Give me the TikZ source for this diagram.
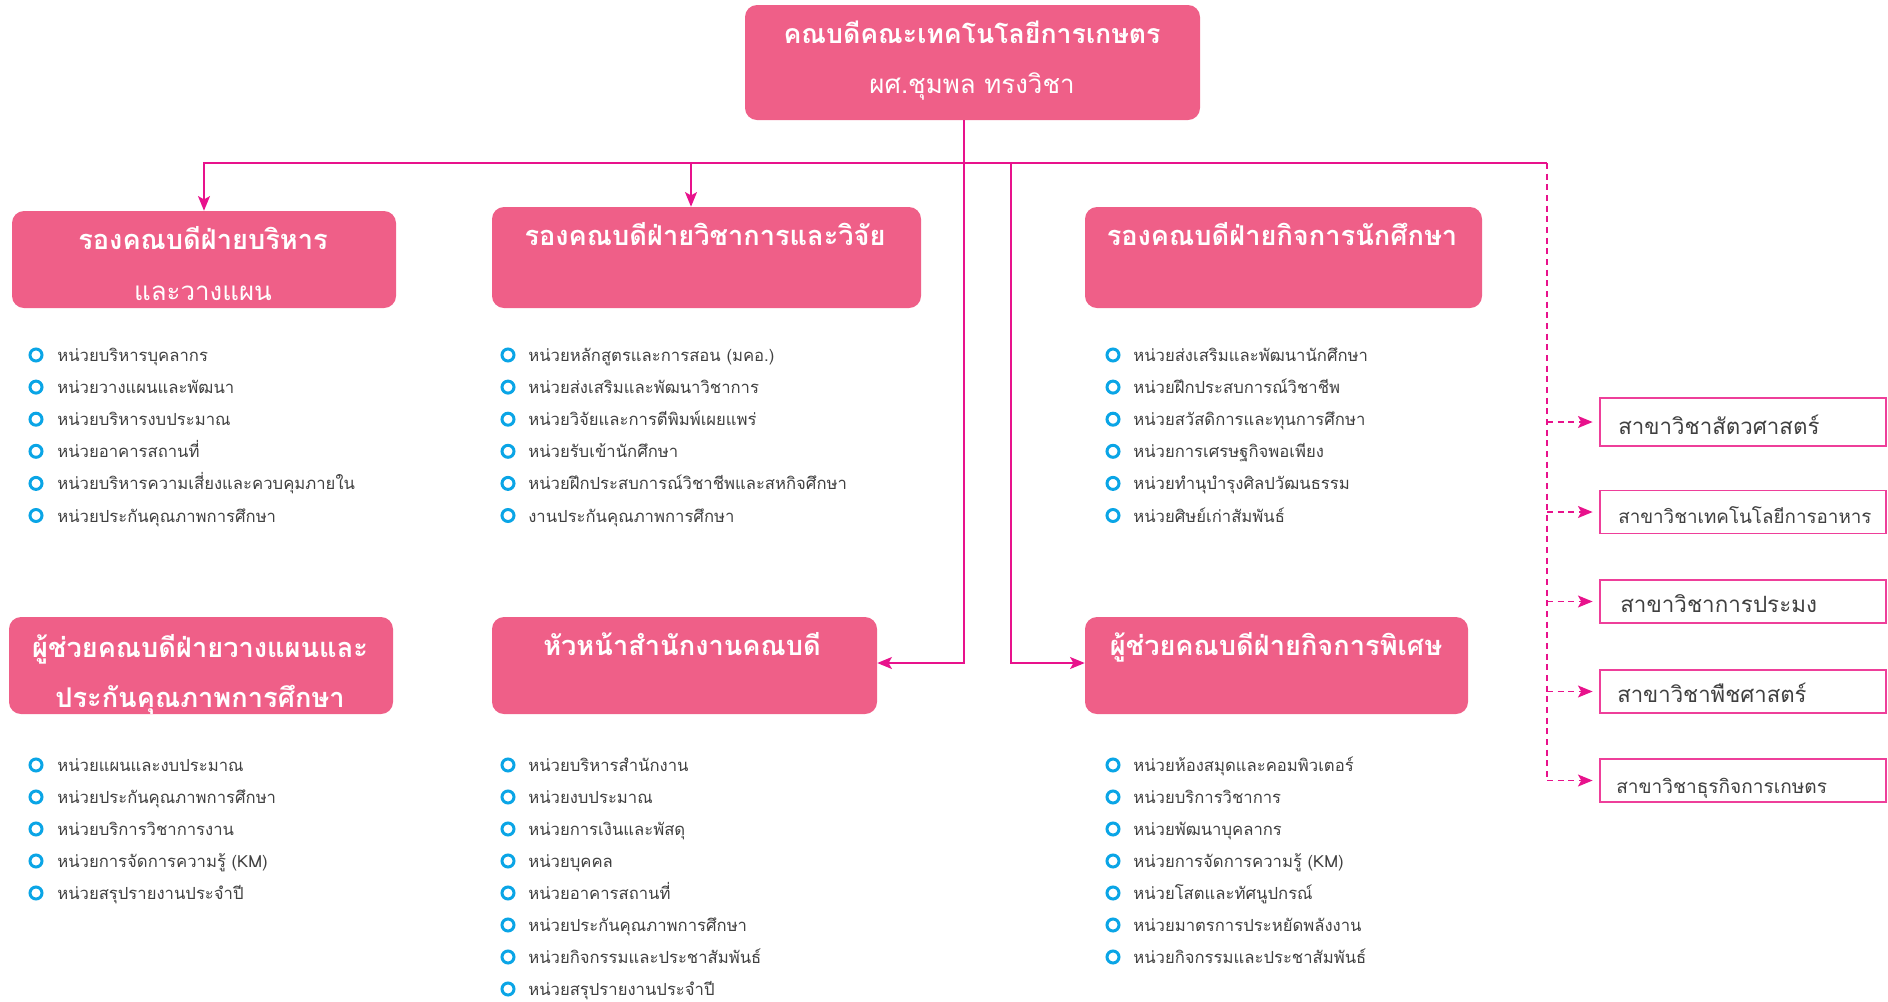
\documentclass[tikz,border=0pt]{standalone}
\usepackage{fontspec}
\setmainfont[Script=Thai]{Loma}
\usetikzlibrary{arrows.meta}
\definecolor{boxpink}{HTML}{EF5F88}
\definecolor{linemag}{HTML}{E8128C}
\definecolor{bulcyan}{HTML}{0AA5E6}
\definecolor{txtgray}{HTML}{404040}
\definecolor{subjborder}{HTML}{EE3F9A}
\begin{document}
\begin{tikzpicture}[x=0.75pt,y=-0.75pt,
  mainbox/.style={fill=boxpink, draw=none, rounded corners=9pt, inner sep=0pt},
  subjbox/.style={draw=subjborder, line width=1.1pt, fill=white, inner sep=0pt, minimum width=214.5pt, minimum height=32.25pt},
  titletext/.style={text=white, anchor=base, inner sep=0pt, font=\fontsize{20.4}{24}\selectfont\bfseries},
  titlethin/.style={text=white, anchor=base, inner sep=0pt, font=\fontsize{19.4}{23}\selectfont},
  itemtext/.style={text=txtgray, anchor=base west, inner sep=0pt, text depth=0pt, font=\fontsize{12.5}{15}\selectfont},
  subjtext/.style={text=txtgray, anchor=base west, inner sep=0pt},
  bullet/.style={circle, draw=bulcyan, line width=2.25pt, minimum size=9pt, inner sep=0pt},
  conn/.style={draw=linemag, line width=1.1pt},
  dconn/.style={draw=linemag, line width=1.1pt, dash pattern=on 4.5pt off 3.5pt},
  tip/.style={-{Stealth[length=11pt,width=9pt,inset=2.5pt]}}
]
\useasboundingbox (0,0) rectangle (1888,1001);

% ---- main boxes
\node[mainbox, minimum width=341.25pt, minimum height=86.25pt] (top) at (972.5,62.5) {};
\node[mainbox, minimum width=288pt, minimum height=72.75pt] (b1) at (204,259.5) {};
\node[mainbox, minimum width=321.75pt, minimum height=75.75pt] (b2) at (706.5,257.5) {};
\node[mainbox, minimum width=297.75pt, minimum height=75.75pt] (b3) at (1283.5,257.5) {};
\node[mainbox, minimum width=288pt, minimum height=72.75pt] (b4) at (201,665.5) {};
\node[mainbox, minimum width=288.75pt, minimum height=72.75pt] (b5) at (684.5,665.5) {};
\node[mainbox, minimum width=287.25pt, minimum height=72.75pt] (b6) at (1276.5,665.5) {};

% ---- titles
\node[titletext, font=\fontsize{20}{24}\selectfont\bfseries] (tt1) at (972,43) {คณบดีคณะเทคโนโลยีการเกษตร};
\node[titlethin] (tt2) at (972,93) {ผศ.ชุมพล ทรงวิชา};
\node[titletext] (t1a) at (203,249) {รองคณบดีฝ่ายบริหาร};
\node[titlethin] (t1b) at (203,300) {และวางแผน};
\node[titletext] (t2) at (705,245) {รองคณบดีฝ่ายวิชาการและวิจัย};
\node[titletext] (t3) at (1282,245) {รองคณบดีฝ่ายกิจการนักศึกษา};
\node[titletext] (t4a) at (200,657) {ผู้ช่วยคณบดีฝ่ายวางแผนและ};
\node[titletext] (t4b) at (200,707) {ประกันคุณภาพการศึกษา};
\node[titletext] (t5) at (682,655) {หัวหน้าสำนักงานคณบดี};
\node[titletext] (t6) at (1276,655) {ผู้ช่วยคณบดีฝ่ายกิจการพิเศษ};

% ---- lists
\foreach \txt [count=\i from 0] in {หน่วยบริหารบุคลากร, หน่วยวางแผนและพัฒนา, หน่วยบริหารงบประมาณ, หน่วยอาคารสถานที่, หน่วยบริหารความเสี่ยงและควบคุมภายใน, หน่วยประกันคุณภาพการศึกษา}{
  \node[bullet] (ba\i) at (36,355+32.1*\i) {};
  \node[itemtext] (la\i) at (57,361.5+32.1*\i) {\txt};
}
\foreach \txt [count=\i from 0] in {หน่วยหลักสูตรและการสอน (มคอ.), หน่วยส่งเสริมและพัฒนาวิชาการ, หน่วยวิจัยและการตีพิมพ์เผยแพร่, หน่วยรับเข้านักศึกษา, หน่วยฝึกประสบการณ์วิชาชีพและสหกิจศึกษา, งานประกันคุณภาพการศึกษา}{
  \node[bullet] (bb\i) at (508,355+32.1*\i) {};
  \node[itemtext] (lb\i) at (528,361.5+32.1*\i) {\txt};
}
\foreach \txt [count=\i from 0] in {หน่วยส่งเสริมและพัฒนานักศึกษา, หน่วยฝึกประสบการณ์วิชาชีพ, หน่วยสวัสดิการและทุนการศึกษา, หน่วยการเศรษฐกิจพอเพียง, หน่วยทำนุบำรุงศิลปวัฒนธรรม, หน่วยศิษย์เก่าสัมพันธ์}{
  \node[bullet] (bc\i) at (1113,355+32.1*\i) {};
  \node[itemtext] (lc\i) at (1133,361.5+32.1*\i) {\txt};
}
\foreach \txt [count=\i from 0] in {หน่วยแผนและงบประมาณ, หน่วยประกันคุณภาพการศึกษา, หน่วยบริการวิชาการงาน, หน่วยการจัดการความรู้ (KM), หน่วยสรุปรายงานประจำปี}{
  \node[bullet] (bd\i) at (36,765+32*\i) {};
  \node[itemtext] (ld\i) at (57,771.5+32*\i) {\txt};
}
\foreach \txt [count=\i from 0] in {หน่วยบริหารสำนักงาน, หน่วยงบประมาณ, หน่วยการเงินและพัสดุ, หน่วยบุคคล, หน่วยอาคารสถานที่, หน่วยประกันคุณภาพการศึกษา, หน่วยกิจกรรมและประชาสัมพันธ์, หน่วยสรุปรายงานประจำปี}{
  \node[bullet] (be\i) at (508,765+32*\i) {};
  \node[itemtext] (le\i) at (528,771.5+32*\i) {\txt};
}
\foreach \txt [count=\i from 0] in {หน่วยห้องสมุดและคอมพิวเตอร์, หน่วยบริการวิชาการ, หน่วยพัฒนาบุคลากร, หน่วยการจัดการความรู้ (KM), หน่วยโสตและทัศนูปกรณ์, หน่วยมาตรการประหยัดพลังงาน, หน่วยกิจกรรมและประชาสัมพันธ์}{
  \node[bullet] (bf\i) at (1113,765+32*\i) {};
  \node[itemtext] (lf\i) at (1133,771.5+32*\i) {\txt};
}

% ---- subject boxes
\node[subjbox, minimum height=36pt] (s1) at (1743,422) {};
\node[subjbox] (s2) at (1743,512) {};
\node[subjbox] (s3) at (1743,601.5) {};
\node[subjbox] (s4) at (1743,691.5) {};
\node[subjbox] (s5) at (1743,780.5) {};
\node[subjtext, font=\fontsize{16.7}{19}\selectfont] (st1) at (1618,434) {สาขาวิชาสัตวศาสตร์};
\node[subjtext, font=\fontsize{14.1}{17}\selectfont] (st2) at (1618,523) {สาขาวิชาเทคโนโลยีการอาหาร};
\node[subjtext, font=\fontsize{16.8}{19}\selectfont] (st3) at (1620,612) {สาขาวิชาการประมง};
\node[subjtext, font=\fontsize{16.6}{19}\selectfont] (st4) at (1617,702.5) {สาขาวิชาพืชศาสตร์};
\node[subjtext, font=\fontsize{14.3}{17}\selectfont] (st5) at (1616,793) {สาขาวิชาธุรกิจการเกษตร};

% ---- connectors
\coordinate (hr) at (1547,163);
\coordinate (a2) at (691,163);
\coordinate (v1) at (964,120);
\coordinate (v2) at (1011,163);
\draw[conn, tip] (hr) -- (b1.north |- hr) -- (b1.north);
\draw[conn, tip] (a2) -- (a2 |- b2.north);
\draw[conn, tip] (v1) -- (v1 |- 0,663) -- (b5.east |- 0,663);
\draw[conn, tip] (v2) -- (v2 |- 0,663) -- (b6.west |- 0,663);
\draw[dconn] (hr) -- (hr |- s5.west);
\foreach \s in {s1,s2,s3,s4,s5}{
  \draw[dconn, tip, shorten >=5pt] (hr |- \s.west) -- (\s.west);
}
\end{tikzpicture}
\end{document}
